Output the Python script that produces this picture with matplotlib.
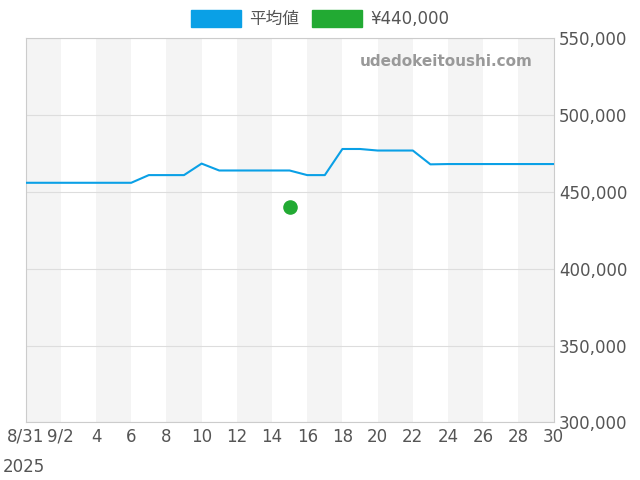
import numpy as np
import matplotlib.pyplot as plt
from matplotlib.patches import Patch

plt.rcParams['font.family'] = ['DejaVu Sans', 'Noto Sans CJK JP']

days = np.arange(0, 31)  # 0 = 8/31, 1 = 9/1 ... 30 = 9/30
avg = [456000] * 7 + [461000, 461000, 461000, 468500] + [464000] * 5 + \
      [461000, 461000, 478000, 478000] + [477000, 477000, 477000] + [468000] + [468200] * 7
point_day = 15
point_val = 440000

tick_pos = list(range(0, 31, 2))
tick_lab = ["8/31", "9/2"] + [str(d) for d in range(4, 31, 2)]

fig, ax = plt.subplots(figsize=(6.4, 4.8), dpi=100)
fig.subplots_adjust(left=0.04, right=0.865, top=0.92, bottom=0.12)

for s in range(0, 30, 4):
    ax.axvspan(s, s + 2, color="#f4f4f4", lw=0, zorder=0)

ax.plot(days, avg, color="#0aa0e6", lw=1.5, zorder=3)
ax.scatter([point_day], [point_val], color="#22aa33", s=90, zorder=4)

ax.set_xlim(0, 30)
ax.set_ylim(300000, 550000)
ax.set_xticks(tick_pos)
ax.set_xticklabels(tick_lab, fontsize=12, color="#555555")
ax.yaxis.tick_right()
ax.set_yticks(range(300000, 550001, 50000))
ax.set_yticklabels([f"{v:,}" for v in range(300000, 550001, 50000)], fontsize=12, color="#555555")
ax.tick_params(length=0, pad=4)
ax.grid(axis="y", color="#dddddd", lw=0.8)
for sp in ax.spines.values():
    sp.set_color("#cccccc")

fig.text(0.005, 0.028, "2025", fontsize=12, color="#555555", ha="left", va="center")

ax.text(0.96, 0.94, "udedokeitoushi.com", transform=ax.transAxes, ha="right", va="center",
        fontsize=11, fontweight="bold", color="#999999")

handles = [Patch(color="#0aa0e6", label="平均値"), Patch(color="#22aa33", label="¥440,000")]
fig.legend(handles=handles, loc="upper center", ncol=2, frameon=False, fontsize=12,
           bbox_to_anchor=(0.5, 1.01), handlelength=3, handleheight=1.2, handletextpad=0.5,
           columnspacing=0.8, labelcolor="#555555")

fig.savefig("out.png", dpi=100)
